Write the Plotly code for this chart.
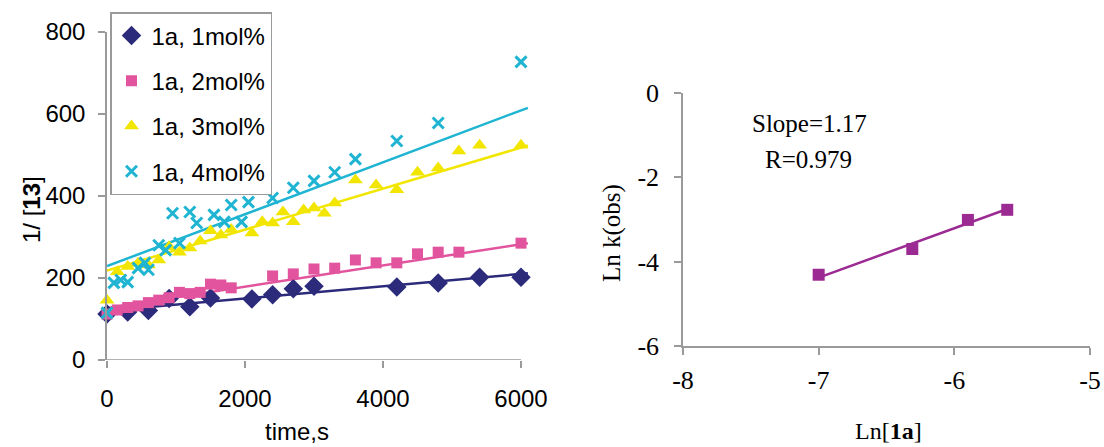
import plotly.graph_objects as go

W, H = 1104, 447

# ---- left panel: 1/[13] versus time for four catalyst loadings ----
time_1 = [0, 300, 600, 900, 1200, 1500, 2100, 2400, 2700, 3000, 4200, 4800, 5400, 6000]
inv_1 = [112, 117, 121, 150, 130, 151, 149, 159, 174, 180, 178, 188, 202, 202]

time_2 = [0, 150, 300, 450, 600, 750, 900, 1050, 1200, 1350, 1500, 1650, 1800,
          2400, 2700, 3000, 3300, 3600, 3900, 4200, 4500, 4800, 5100, 6000]
inv_2 = [112, 122, 128, 132, 140, 146, 152, 165, 162, 165, 185, 183, 176,
         205, 210, 222, 224, 244, 237, 237, 259, 263, 263, 285]

time_3 = [0, 150, 300, 450, 600, 750, 900, 1050, 1200, 1350, 1500, 1650, 1800,
          2100, 2250, 2400, 2550, 2700, 2850, 3000, 3150, 3300, 3600, 3900,
          4200, 4500, 4800, 5100, 5400, 6000]
inv_3 = [146, 215, 228, 236, 232, 244, 276, 263, 273, 290, 315, 305, 318,
         310, 337, 334, 361, 337, 366, 371, 358, 383, 439, 427,
         415, 458, 468, 510, 524, 524]

time_4 = [0, 100, 200, 300, 450, 550, 600, 750, 850, 950, 1050, 1200, 1300,
          1550, 1700, 1800, 1950, 2050, 2400, 2700, 3000, 3300, 3600, 4200,
          4800, 6000]
inv_4 = [115, 188, 195, 190, 224, 237, 220, 280, 268, 358, 285, 361, 334,
         354, 337, 378, 337, 385, 395, 420, 437, 458, 490, 534,
         578, 727]

series_names = ["1a, 1mol%", "1a, 2mol%", "1a, 3mol%", "1a, 4mol%"]

# linear trend lines (intercept, slope per second) for each loading
trend_intercept = [120, 127, 218, 229]
trend_slope = [0.0150, 0.0259, 0.0500, 0.0633]
trend_span = [0, 6100]

x_ticks_left = [0, 2000, 4000, 6000]
y_ticks_left = [0, 200, 400, 600, 800]

# ---- right panel: log-log order plot ----
ln_1a = [-7.0, -6.31, -5.90, -5.61]
ln_kobs = [-4.31, -3.70, -3.01, -2.77]
SLOPE = 1.17
R_VALUE = 0.979
x_ticks_right = [-8, -7, -6, -5]
y_ticks_right = [0, -2, -4, -6]

NAVY = "#2c2a7a"
PINK = "#e2559e"
YELLOW = "#f2e600"
CYAN = "#1fb4d2"
PURPLE = "#9b2a92"
AXIS = "#9a9a9a"
SANS = "Liberation Sans, Arial, sans-serif"
SERIF = "Liberation Serif, Times New Roman, serif"

fig = go.Figure()

styles = [
    dict(color=NAVY, symbol="diamond", size=15, line=dict(width=0)),
    dict(color=PINK, symbol="square", size=11, line=dict(width=0)),
    dict(color=YELLOW, symbol="triangle-up", size=13, line=dict(width=0)),
    dict(color=CYAN, symbol="x-thin", size=11, line=dict(width=3, color=CYAN)),
]
line_colors = [NAVY, PINK, YELLOW, CYAN]
datasets = [(time_1, inv_1), (time_2, inv_2), (time_3, inv_3), (time_4, inv_4)]

# trend lines first, so the markers sit on top
for b, k, col in zip(trend_intercept, trend_slope, line_colors):
    fig.add_trace(go.Scatter(x=trend_span, y=[b + k * t for t in trend_span],
                             mode="lines", line=dict(color=col, width=2.5),
                             showlegend=False, hoverinfo="skip",
                             xaxis="x", yaxis="y"))

for (t, v), name, st in zip(datasets, series_names, styles):
    fig.add_trace(go.Scatter(x=t, y=v, mode="markers", name=name,
                             marker=st, cliponaxis=False,
                             legendgroup=name,
                             xaxis="x", yaxis="y"))

# right panel trend line with the stated slope, through the data centroid
mx = sum(ln_1a) / len(ln_1a)
my = sum(ln_kobs) / len(ln_kobs)
lx = [min(ln_1a), max(ln_1a)]
fig.add_trace(go.Scatter(x=lx, y=[my + SLOPE * (x - mx) for x in lx],
                         mode="lines", line=dict(color=PURPLE, width=2.5),
                         showlegend=False, hoverinfo="skip",
                         xaxis="x2", yaxis="y2"))
fig.add_trace(go.Scatter(x=ln_1a, y=ln_kobs, mode="markers",
                         marker=dict(color=PURPLE, symbol="square", size=12),
                         showlegend=False, cliponaxis=False,
                         xaxis="x2", yaxis="y2"))


def px_x(p):
    return p / W


def px_y(p):
    return 1 - p / H


# left panel: 0 s at 107 px, 6000 s at 521 px; 0 at 360 px, 800 at 32 px
x_scale = (521 - 107) / 6000
x_max = 6150
left_x_domain = [px_x(107), px_x(107 + x_max * x_scale)]
left_y_domain = [px_y(360), px_y(32)]

tick_style = dict(showgrid=False, zeroline=False, automargin=False,
                  ticks="outside", ticklen=7, tickwidth=1.5, tickcolor=AXIS)
line_style = dict(linecolor=AXIS, linewidth=1.5)

fig.update_layout(
    width=W, height=H,
    margin=dict(l=0, r=0, t=0, b=0, autoexpand=False),
    paper_bgcolor="white", plot_bgcolor="white",
    xaxis=dict(domain=left_x_domain, range=[0, x_max], anchor="y",
               tickvals=x_ticks_left, ticktext=[str(v) for v in x_ticks_left],
               showline=False,
               tickfont=dict(family=SANS, size=24, color="black"),
               ticklabelstandoff=10, **tick_style),
    yaxis=dict(domain=left_y_domain, range=[0, 800], anchor="x",
               tickvals=y_ticks_left, ticktext=[str(v) for v in y_ticks_left],
               showline=True,
               tickfont=dict(family=SANS, size=24, color="black"),
               ticklabelstandoff=8, **tick_style, **line_style),
    xaxis2=dict(domain=[px_x(683), px_x(1090)], range=[-8, -5], anchor="y2",
                tickvals=x_ticks_right, ticktext=[str(v) for v in x_ticks_right],
                showline=True,
                tickfont=dict(family=SERIF, size=26, color="black"),
                ticklabelstandoff=3, **tick_style, **line_style),
    yaxis2=dict(domain=[px_y(346), px_y(93)], range=[-6, 0], anchor="x2",
                tickvals=y_ticks_right, ticktext=[str(v) for v in y_ticks_right],
                showline=True,
                tickfont=dict(family=SERIF, size=26, color="black"),
                ticklabelstandoff=10, **tick_style, **line_style),
    legend=dict(x=px_x(110), y=px_y(12), xanchor="left", yanchor="top",
                bgcolor="white", bordercolor=AXIS, borderwidth=1.5,
                font=dict(family=SANS, size=24, color="black"),
                tracegroupgap=11, itemsizing="trace"),
    showlegend=True,
)

# x axis line of the left panel stops at the last tick
fig.add_shape(type="line", xref="x", yref="y", x0=0, x1=6000, y0=0, y1=0,
              line=dict(color=AXIS, width=1.5), layer="below")

annotations = [
    dict(text="1/ [<b>13</b>]", x=px_x(31), y=px_y(210), textangle=-90,
         font=dict(family=SANS, size=24, color="black")),
    dict(text="time,s", x=px_x(297), y=px_y(431),
         font=dict(family=SANS, size=24, color="black")),
    dict(text="Ln k(obs)", x=px_x(612), y=px_y(233), textangle=-90,
         font=dict(family=SERIF, size=25, color="black")),
    dict(text="Ln[<b>1a</b>]", x=px_x(888), y=px_y(431),
         font=dict(family=SERIF, size=24, color="black")),
    dict(text=f"Slope={SLOPE}", x=px_x(809), y=px_y(124),
         font=dict(family=SERIF, size=25, color="black")),
    dict(text=f"R={R_VALUE}", x=px_x(808), y=px_y(159),
         font=dict(family=SERIF, size=25, color="black")),
]
for a in annotations:
    fig.add_annotation(xref="paper", yref="paper", showarrow=False,
                       xanchor="center", yanchor="middle", **a)

fig.write_html("out.html")
